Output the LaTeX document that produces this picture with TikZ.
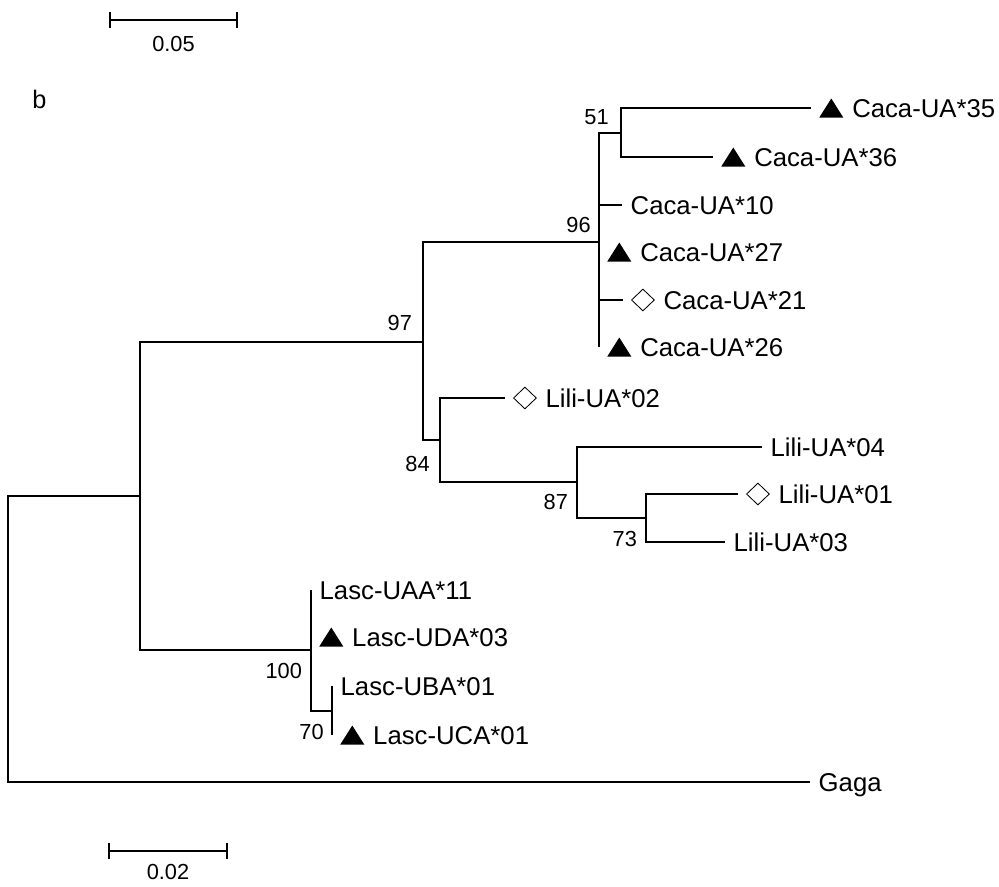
\documentclass[tikz,border=0pt]{standalone}
\usepackage{fontspec}
\setmainfont{Liberation Sans}
\usepackage{tikz}
\usetikzlibrary{shapes.geometric, arrows.meta, positioning}

\begin{document}
\begin{tikzpicture}[
  x=0.25mm, y=-0.25mm,
  node distance=2mm,
  branch/.style={line width=1.2pt, line join=miter},
  taxon/.style={inner sep=0pt, font=\fontsize{18.3}{21}\selectfont,
                text height=13.1pt, text depth=0pt},
  boot/.style={inner sep=0pt, font=\fontsize{15.5}{18}\selectfont,
               text height=11.1pt, text depth=0pt},
  tri/.style={inner sep=0pt, minimum width=6mm, minimum height=4.75mm,
              path picture={\fill (path picture bounding box.south west)
                -- (path picture bounding box.south east)
                -- (path picture bounding box.north) -- cycle;}},
  dia/.style={draw, diamond, inner sep=0pt, line width=0.6pt,
              minimum width=5.75mm, minimum height=5.5mm},
  sbar/.style={line width=1.2pt, {Bar[width=4mm]}-{Bar[width=4mm]}}
]
\useasboundingbox (0,0) rectangle (999,887);

% internal nodes
\coordinate (root) at (8,639);
\coordinate (nA)   at (140,496);
\coordinate (n97)  at (423,342);
\coordinate (n96)  at (599,242);
\coordinate (n51)  at (621,133);
\coordinate (n84)  at (440,440);
\coordinate (n87)  at (577,482);
\coordinate (n73)  at (646,518);
\coordinate (n100) at (311,650);
\coordinate (n70)  at (332,711);

% branch ends
\coordinate (e35)   at (811,108);
\coordinate (e36)   at (713,157);
\coordinate (e10)   at (622,205);
\coordinate (e27)   at (599,252);
\coordinate (e21)   at (623,300);
\coordinate (e26)   at (599,347);
\coordinate (e02)   at (505,398);
\coordinate (e04)   at (762,447);
\coordinate (e01)   at (738,494);
\coordinate (e03)   at (725,542);
\coordinate (e11)   at (311,590);
\coordinate (eD03)  at (311,637);
\coordinate (eB01)  at (332,686);
\coordinate (eC01)  at (332,735);
\coordinate (eGaga) at (810,782);

% tree
\draw[branch] (root) |- (nA) (root) |- (eGaga);
\draw[branch] (nA) |- (n97) (nA) |- (n100);
\draw[branch] (n97) |- (n96) (n97) |- (n84);
\draw[branch] (n96) |- (n51) (n96) |- (e10) (n96) |- (e27)
              (n96) |- (e21) (n96) |- (e26);
\draw[branch] (n51) |- (e35) (n51) |- (e36);
\draw[branch] (n84) |- (e02) (n84) |- (n87);
\draw[branch] (n87) |- (e04) (n87) |- (n73);
\draw[branch] (n73) |- (e01) (n73) |- (e03);
\draw[branch] (n100) |- (e11) (n100) |- (eD03) (n100) |- (n70);
\draw[branch] (n70) |- (eB01) (n70) |- (eC01);

% taxa
\node[tri, right=2mm of e35] (m35) {};
\node[taxon, right=2.1mm of m35] (t35) {Caca-UA*35};
\node[tri, right=2mm of e36] (m36) {};
\node[taxon, right=2.1mm of m36] (t36) {Caca-UA*36};
\node[taxon, right=2.1mm of e10] (t10) {Caca-UA*10};
\node[tri, right=2mm of e27] (m27) {};
\node[taxon, right=2.1mm of m27] (t27) {Caca-UA*27};
\node[dia, right=2mm of e21] (m21) {};
\node[taxon, right=2.1mm of m21] (t21) {Caca-UA*21};
\node[tri, right=2mm of e26] (m26) {};
\node[taxon, right=2.1mm of m26] (t26) {Caca-UA*26};
\node[dia, right=2mm of e02] (m02) {};
\node[taxon, right=2.1mm of m02] (t02) {Lili-UA*02};
\node[taxon, right=2.1mm of e04] (t04) {Lili-UA*04};
\node[dia, right=2mm of e01] (m01) {};
\node[taxon, right=2.1mm of m01] (t01) {Lili-UA*01};
\node[taxon, right=2.1mm of e03] (t03) {Lili-UA*03};
\node[taxon, right=2.1mm of e11] (t11) {Lasc-UAA*11};
\node[tri, right=2mm of eD03] (mD03) {};
\node[taxon, right=2.1mm of mD03] (tD03) {Lasc-UDA*03};
\node[taxon, right=2.1mm of eB01] (tB01) {Lasc-UBA*01};
\node[tri, right=2mm of eC01] (mC01) {};
\node[taxon, right=2.1mm of mC01] (tC01) {Lasc-UCA*01};
\node[taxon, right=2.1mm of eGaga] (tGaga) {Gaga};

% bootstrap values
\node[boot, above left=2mm and 3mm of n51] (b51) {51};
\node[boot, above left=2.3mm and 2mm of n96] (b96) {96};
\node[boot, above left=2.7mm and 2.7mm of n97] (b97) {97};
\node[boot, below left=4mm and 2.5mm of n84] (b84) {84};
\node[boot, below left=3mm and 2.2mm of n87] (b87) {87};
\node[boot, below left=3.2mm and 2.2mm of n73] (b73) {73};
\node[boot, below left=3.2mm and 2.2mm of n100] (b100) {100};
\node[boot, below left=3.2mm and 2mm of n70] (b70) {70};

% panel letter and scale bars
\node[anchor=base west, inner sep=0pt, font=\fontsize{18}{20}\selectfont]
  (panel) at (32,108) {b};
\coordinate (s05a) at (109,20);
\coordinate (s05b) at (238,20);
\draw[sbar] (s05a) -- node[boot, below=3.75mm] (l05) {0.05} (s05b);
\coordinate (s02a) at (108,851);
\coordinate (s02b) at (228,851);
\draw[sbar] (s02a) -- node[boot, below=3mm] (l02) {0.02} (s02b);
\end{tikzpicture}
\end{document}
